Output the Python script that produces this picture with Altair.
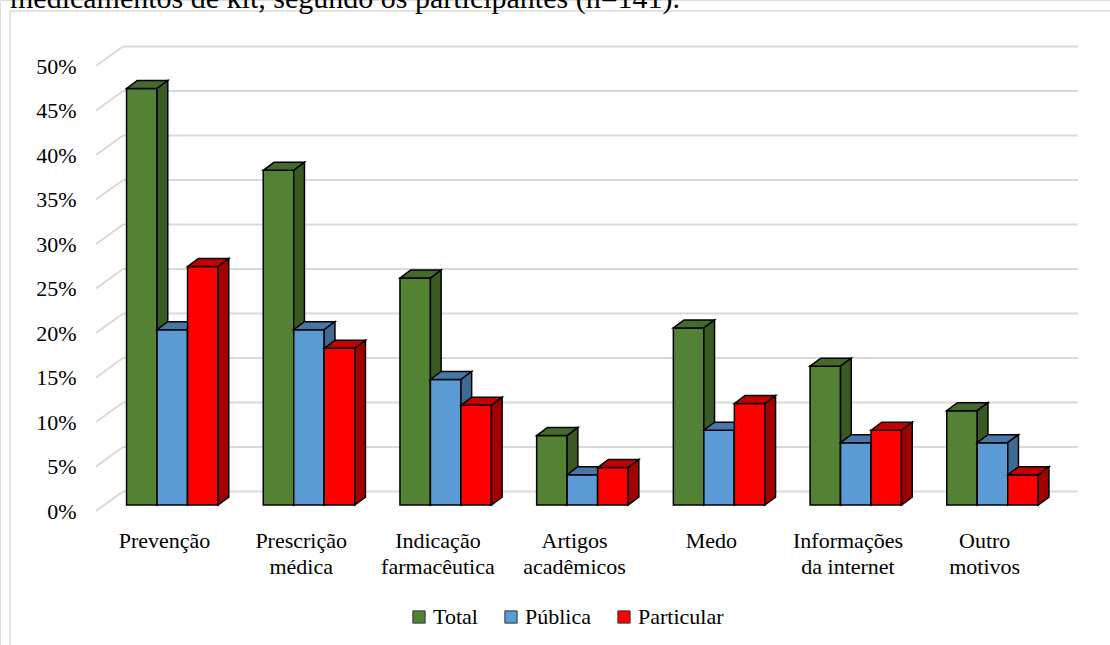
import altair as alt
import pandas as pd

# ---------------- data ----------------
categories = ["Prevenção", "Prescrição\nmédica", "Indicação\nfarmacêutica",
              "Artigos\nacadêmicos", "Medo", "Informações\nda internet", "Outro\nmotivos"]
series = ["Total", "Pública", "Particular"]
total = [0.468, 0.376, 0.255, 0.078, 0.199, 0.156, 0.106]
publica = [0.197, 0.197, 0.141, 0.034, 0.084, 0.070, 0.070]
particular = [0.268, 0.176, 0.112, 0.042, 0.114, 0.084, 0.034]
y_ticks = [0, 0.05, 0.10, 0.15, 0.20, 0.25, 0.30, 0.35, 0.40, 0.45, 0.50]
caption = "medicamentos de kit, segundo os participantes (n=141)."

series_values = [total, publica, particular]
front_colors = ["#548235", "#5b9bd5", "#ff0000"]
top_colors = ["#446b2b", "#4677a8", "#c40000"]
side_colors = ["#3a5a24", "#3e6a94", "#a30000"]

# ---------------- geometry (pixels) ----------------
W, H = 1110, 645
X0, XS = 164.5, 136.7      # pixel of category 0 centre, pixels per category
Y0, YS = 511.0, 890.0      # pixel of 0 %, pixels per 100 %
BAR_W = 30.5
BAR_SHIFT_X, BAR_SHIFT_Y = 7.8, 6.0
DEPTH_X, DEPTH_Y = 10.7, 8.0
WALL_X, WALL_Y = 27.0, 19.5
FONT = "Liberation Serif"


def ux(px):
    return (px - X0) / XS


def vy(px):
    return (Y0 - px) / YS


xs = alt.Scale(domain=[ux(0), ux(W)], nice=False, zero=False)
ys = alt.Scale(domain=[vy(H), vy(0)], nice=False, zero=False)
y_axis = alt.Axis(values=y_ticks, format=".0%", offset=-96, labelPadding=20, ticks=False,
                  domain=False, grid=False, title=None, labelFont=FONT, labelFontSize=22,
                  labelColor="black")


def X(field):
    return alt.X(field, scale=xs, axis=None)


def Y(field):
    return alt.Y(field, scale=ys, axis=y_axis)


ddx = DEPTH_X / XS
ddy = DEPTH_Y / YS

layers = []

# frame + caption
frame = pd.DataFrame([
    {"x": ux(10), "x2": ux(W), "y": vy(11), "y2": vy(11)},
    {"x": ux(10), "x2": ux(10), "y": vy(11), "y2": vy(H)},
])
layers.append(alt.Chart(frame).mark_rule(color="#d9d9d9", strokeWidth=1.5).encode(
    x=X("x:Q"), x2="x2:Q", y=Y("y:Q"), y2="y2:Q"))

cap = pd.DataFrame([{"x": ux(10), "y": vy(8), "t": caption}])
layers.append(alt.Chart(cap).mark_text(align="left", baseline="alphabetic", font=FONT,
                                       fontSize=30, color="black").encode(
    x=X("x:Q"), y=Y("y:Q"), text="t:N"))

# back wall gridlines and floor diagonals
grid = pd.DataFrame({"t": y_ticks})
grid["yw"] = grid["t"] + WALL_Y / YS
grid["xa"] = ux(96)
grid["xb"] = ux(96 + WALL_X)
grid["xc"] = ux(1078)
layers.append(alt.Chart(grid).mark_rule(color="#d9d9d9", strokeWidth=2).encode(
    x=X("xb:Q"), x2="xc:Q", y=Y("yw:Q")))
layers.append(alt.Chart(grid).mark_rule(color="#d9d9d9", strokeWidth=2).encode(
    x=X("xa:Q"), x2="xb:Q", y=Y("t:Q"), y2="yw:Q"))

# bars (front, top, side faces)
for k, name in enumerate(series):
    fronts, tops, sides = [], [], []
    for i, val in enumerate(series_values[k]):
        xl = i + (BAR_SHIFT_X - 1.5 * BAR_W + k * BAR_W) / XS
        xr = xl + BAR_W / XS
        y0 = BAR_SHIFT_Y / YS
        yt = y0 + val
        fid = f"{k}-{i}"
        fronts.append({"series": name, "x": xl, "x2": xr, "y": y0, "y2": yt})
        tops += [
            {"f": fid, "x": xl, "y": yt, "y2": yt},
            {"f": fid, "x": xl + ddx, "y": yt + ddy, "y2": yt},
            {"f": fid, "x": xr, "y": yt + ddy, "y2": yt},
            {"f": fid, "x": xr + ddx, "y": yt + ddy, "y2": yt + ddy},
        ]
        sides += [
            {"f": fid, "x": xr, "y": yt, "y2": y0},
            {"f": fid, "x": xr + ddx, "y": yt + ddy, "y2": y0 + ddy},
        ]
    layers.append(alt.Chart(pd.DataFrame(fronts)).mark_rect(stroke="black", strokeWidth=1.5).encode(
        x=X("x:Q"), x2="x2:Q", y=Y("y:Q"), y2="y2:Q",
        color=alt.Color("series:N",
                        scale=alt.Scale(domain=series, range=front_colors),
                        legend=alt.Legend(orient="none", legendX=408, legendY=606,
                                          direction="horizontal", title=None,
                                          symbolType="square", symbolSize=150,
                                          symbolStrokeColor="#333333", symbolStrokeWidth=1,
                                          labelFont=FONT, labelFontSize=22,
                                          labelColor="black", columnPadding=22,
                                          labelOffset=3))))
    layers.append(alt.Chart(pd.DataFrame(tops)).mark_area(
        orient="vertical", interpolate="linear", fill=top_colors[k], fillOpacity=1,
        stroke="black", strokeWidth=1.5, strokeJoin="miter").encode(
        x=X("x:Q"), y=Y("y:Q"), y2="y2:Q", detail="f:N"))
    layers.append(alt.Chart(pd.DataFrame(sides)).mark_area(
        orient="vertical", interpolate="linear", fill=side_colors[k], fillOpacity=1,
        stroke="black", strokeWidth=1.5, strokeJoin="miter").encode(
        x=X("x:Q"), y=Y("y:Q"), y2="y2:Q", detail="f:N"))

# category labels
labs = pd.DataFrame({"cat": categories, "x": list(range(len(categories)))})
labs["y"] = vy(548)
layers.append(alt.Chart(labs).mark_text(lineBreak="\n", align="center", baseline="alphabetic",
                                        font=FONT, fontSize=22, lineHeight=26, color="black").encode(
    x=X("x:Q"), y=Y("y:Q"), text="cat:N"))

chart = alt.layer(*layers).properties(
    width=W, height=H, padding=0, autosize=alt.AutoSizeParams(type="none")
).configure_view(stroke=None).configure(background="white")

chart.save("out.html", embed_options={"renderer": "svg", "actions": False})
